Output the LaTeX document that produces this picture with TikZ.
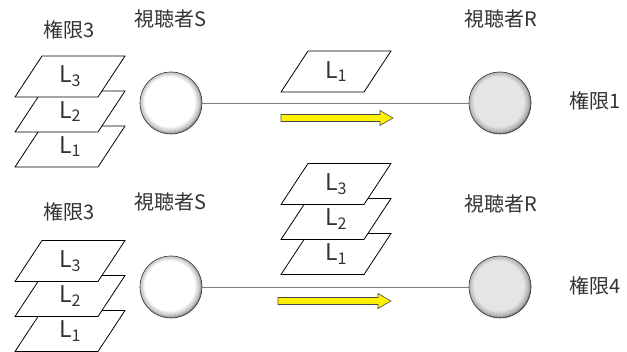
\documentclass[tikz,border=0pt]{standalone}
\usepackage{fontspec}
\setmainfont{Noto Sans CJK JP}
\usepackage{tikz}
\usepackage{xcolor}

\pgfdeclareradialshading{senderball}{\pgfpoint{-2bp}{2bp}}{color(0bp)=(white); color(20bp)=(white); color(24bp)=(black!25); color(25.5bp)=(black!50); color(50bp)=(black!50)}
\pgfdeclareradialshading{receiverball}{\pgfpoint{-2bp}{2bp}}{color(0bp)=(black!10); color(20bp)=(black!10); color(24bp)=(black!30); color(25.5bp)=(black!55); color(50bp)=(black!55)}

% one layer plane: center, node name, layer number
\newcommand{\layerplane}[3]{%
  \draw[plane] (#1) ++(-28,-20.5) -- ++(83,0) -- ++(-27,41) -- ++(-83,0) -- cycle;
  \node[layertext] (#2) at (#1) {L\textsubscript{#3}};
}
% yellow transfer arrow: x start, x end, y
\newcommand{\sendarrow}[3]{%
  \draw[sendfill] (#1,#3-3.5) -- (#2-13,#3-3.5) -- (#2-13,#3-7.5) -- (#2,#3)
    -- (#2-13,#3+7.5) -- (#2-13,#3+3.5) -- (#1,#3+3.5) -- cycle;
}

\begin{document}
\begin{tikzpicture}[x=1pt, y=-1pt,
  plane/.style={draw=black, fill=white, line width=0.8pt},
  layertext/.style={font=\fontsize{23}{26}\selectfont, text=black!80, inner sep=0pt},
  caption/.style={font=\fontsize{20}{24}\selectfont, text=black!80, inner sep=0pt},
  sender/.style={circle, minimum size=62pt, inner sep=0pt, draw=black!80, line width=0.6pt, shading=senderball},
  receiver/.style={circle, minimum size=62pt, inner sep=0pt, draw=black!80, line width=0.6pt, shading=receiverball},
  link/.style={draw=gray, line width=0.7pt},
  sendfill/.style={fill=yellow, draw=black!70, line width=0.6pt}]
  \useasboundingbox (0,0) rectangle (627,352);

  % Top row: viewers
  \node[sender] (S1) at (171,103) {};
  \node[receiver] (R1) at (500,103) {};
  \draw[link] (S1) -- (R1);
  \node[caption] (cS1) at (170,19) {視聴者S};
  \node[caption] (cR1) at (501,19) {視聴者R};
  \node[caption] (p1) at (69,30) {権限3};
  \node[caption] (q1) at (595,101) {権限1};

  % Top row: layers
  \layerplane{70,146.5}{a1}{1}
  \layerplane{70,111.5}{a2}{2}
  \layerplane{70,76.5}{a3}{3}
  \layerplane{336,71.5}{m1}{1}
  \sendarrow{281}{393}{118}

  % Bottom row: viewers
  \node[sender] (S2) at (171,287) {};
  \node[receiver] (R2) at (500,287) {};
  \draw[link] (S2) -- (R2);
  \node[caption] (cS2) at (170,202) {視聴者S};
  \node[caption] (cR2) at (501,204) {視聴者R};
  \node[caption] (p2) at (69,212) {権限3};
  \node[caption] (q2) at (595,286) {権限4};

  % Bottom row: layers
  \layerplane{70,331}{b1}{1}
  \layerplane{70,296}{b2}{2}
  \layerplane{70,261}{b3}{3}
  \layerplane{336,254}{n1}{1}
  \layerplane{336,219}{n2}{2}
  \layerplane{336,184}{n3}{3}
  \sendarrow{278}{391}{301}
\end{tikzpicture}
\end{document}
